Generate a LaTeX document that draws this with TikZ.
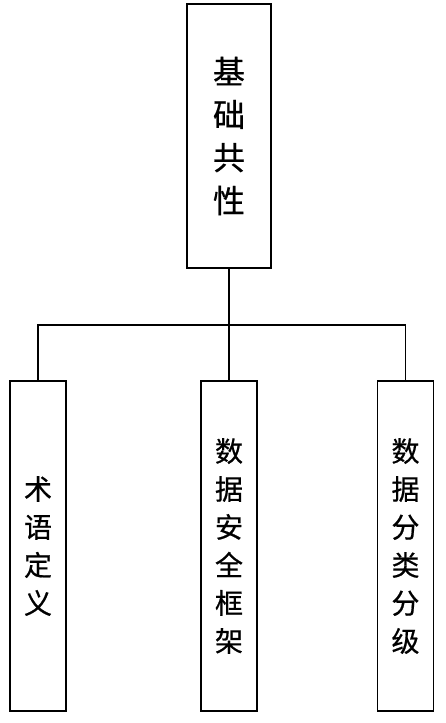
\documentclass[tikz,border=0pt]{standalone}
\usepackage{fontspec}
\newfontfamily\cjk[FakeBold=0.6]{Noto Sans CJK SC}
\usetikzlibrary{calc}
\tikzset{
	topbox/.style={draw, line width=1.4pt, minimum width=84pt, minimum height=264pt, align=center, font=\cjk\fontsize{32}{43}\selectfont, inner sep=0pt},
	subbox/.style={draw, line width=1.4pt, minimum width=56pt, minimum height=330pt, align=center, font=\cjk\fontsize{28}{38}\selectfont, inner sep=0pt},
	wire/.style={line width=1.4pt}
}

\begin{document}
\begin{tikzpicture}[x=1pt, y=-1pt]
		%%%%% START %%%%%
		
		\useasboundingbox (0, 0) rectangle (445, 723);
		
		\node[topbox] (base) at (229, 136) {基\\础\\共\\性};
		
		\node[subbox] (term) at (38, 546) {术\\语\\定\\义};
		\node[subbox] (frame) at (229, 546) {数\\据\\安\\全\\框\\架};
		\node[subbox] (grade) at (405.5, 546) {数\\据\\分\\类\\分\\级};
		
		\coordinate (fork) at (229, 325);
		
		\draw[wire] (base) -- (fork);
		\draw[wire] (term.north) |- (fork) -| (grade.north);
		\draw[wire] (fork) -- (frame.north);
		
		%%%%% END %%%%%
	\end{tikzpicture}
\end{document}
